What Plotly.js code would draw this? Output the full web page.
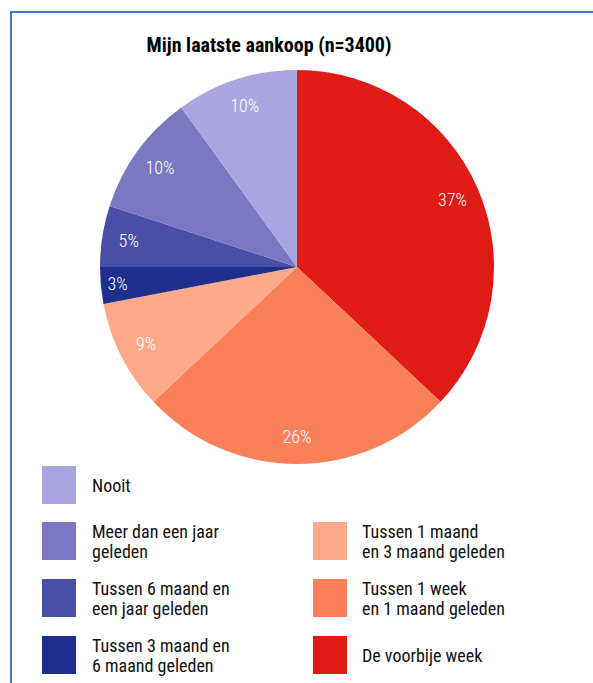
<!DOCTYPE html>
<html>
<head>
<meta charset="utf-8">
<script src="https://cdn.plot.ly/plotly-3.0.1.min.js"></script>
<style>html,body{margin:0;padding:0;background:#fff;}#chart{width:593px;height:683px;}</style>
</head>
<body>
<div id="chart"></div>
<script>
// Data (clockwise from 12 o'clock)
const categories = [
  "De voorbije week",
  "Tussen 1 week<br>en 1 maand geleden",
  "Tussen 1 maand<br>en 3 maand geleden",
  "Tussen 3 maand en<br>6 maand geleden",
  "Tussen 6 maand en<br>een jaar geleden",
  "Meer dan een jaar<br>geleden",
  "Nooit"
];
const values = [37, 26, 9, 3, 5, 10, 10];
const colors = ["#e01b15", "#fa805a", "#fca98a", "#1f2f8e", "#494ea7", "#7b77c3", "#aaa4e0"];
const chartTitle = "Mijn laatste aankoop (n=3400)";

// Legend layout: [categoryIndex, column, row]
const legendOrder = [[6,0,0],[5,0,1],[4,0,2],[3,0,3],[2,1,1],[1,1,2],[0,1,3]];

const W = 593, H = 683;
const px = x => x / W;
const py = y => 1 - y / H;
const FONT = "Roboto Condensed, Liberation Sans Narrow, Arial Narrow, Roboto, sans-serif";

const shapes = [];
const annotations = [];

// frame
shapes.push({type:"line", xref:"paper", yref:"paper", x0:px(10), x1:px(593), y0:py(12), y1:py(12), line:{color:"#3b7dbf", width:2}});
shapes.push({type:"line", xref:"paper", yref:"paper", x0:px(11), x1:px(11), y0:py(12), y1:py(683), line:{color:"#3b7dbf", width:2}});

// custom legend
const colX = [42, 313];
const textX = [90, 360];
const rowTop = [466, 522, 579, 636];
legendOrder.forEach(([i, c, r]) => {
  const top = rowTop[r];
  shapes.push({type:"rect", xref:"paper", yref:"paper",
    x0:px(colX[c]), x1:px(colX[c]+34), y0:py(top), y1:py(top+38),
    fillcolor:colors[i], line:{width:0}});
  const lines = categories[i].split("<br>");
  const mid = top + 19;
  lines.forEach((ln, k) => {
    const cy = mid + (k - (lines.length - 1) / 2) * 20;
    annotations.push({xref:"paper", yref:"paper", x:px(textX[c]), y:py(cy),
      xanchor:"left", yanchor:"middle", showarrow:false, text:ln,
      font:{family:FONT, size:18, color:"#111"}});
  });
});

const domain = {x:[px(100), px(494)], y:[py(464), py(70)]};

const pieTrace = {
  type:"pie",
  values:values,
  labels:categories,
  sort:false,
  direction:"clockwise",
  rotation:0,
  marker:{colors:colors, line:{width:0}},
  textinfo:"none",
  domain:domain,
  showlegend:false,
  hoverinfo:"label+percent"
};

// transparent ring on top, used only to place the percentage labels near the rim
const labelTrace = {
  type:"pie",
  values:values,
  labels:categories,
  sort:false,
  direction:"clockwise",
  rotation:0,
  hole:0.72,
  marker:{colors:values.map(() => "rgba(0,0,0,0)"), line:{width:0}},
  textinfo:"percent",
  textposition:"inside",
  insidetextorientation:"horizontal",
  textfont:{family:FONT, size:18, weight:300, color:"#ffffff"},
  domain:domain,
  showlegend:false,
  hoverinfo:"skip"
};

const layout = {
  width:W, height:H,
  margin:{l:0, r:0, t:0, b:0},
  paper_bgcolor:"#ffffff",
  showlegend:false,
  title:{text:"<b>" + chartTitle + "</b>", x:px(269), xanchor:"center", y:py(45), yanchor:"middle",
    xref:"paper", yref:"paper", font:{family:FONT, size:20, color:"#000"}},
  shapes:shapes,
  annotations:annotations
};

Plotly.newPlot("chart", [pieTrace, labelTrace], layout, {displayModeBar:false, staticPlot:true});
</script>
</body>
</html>
